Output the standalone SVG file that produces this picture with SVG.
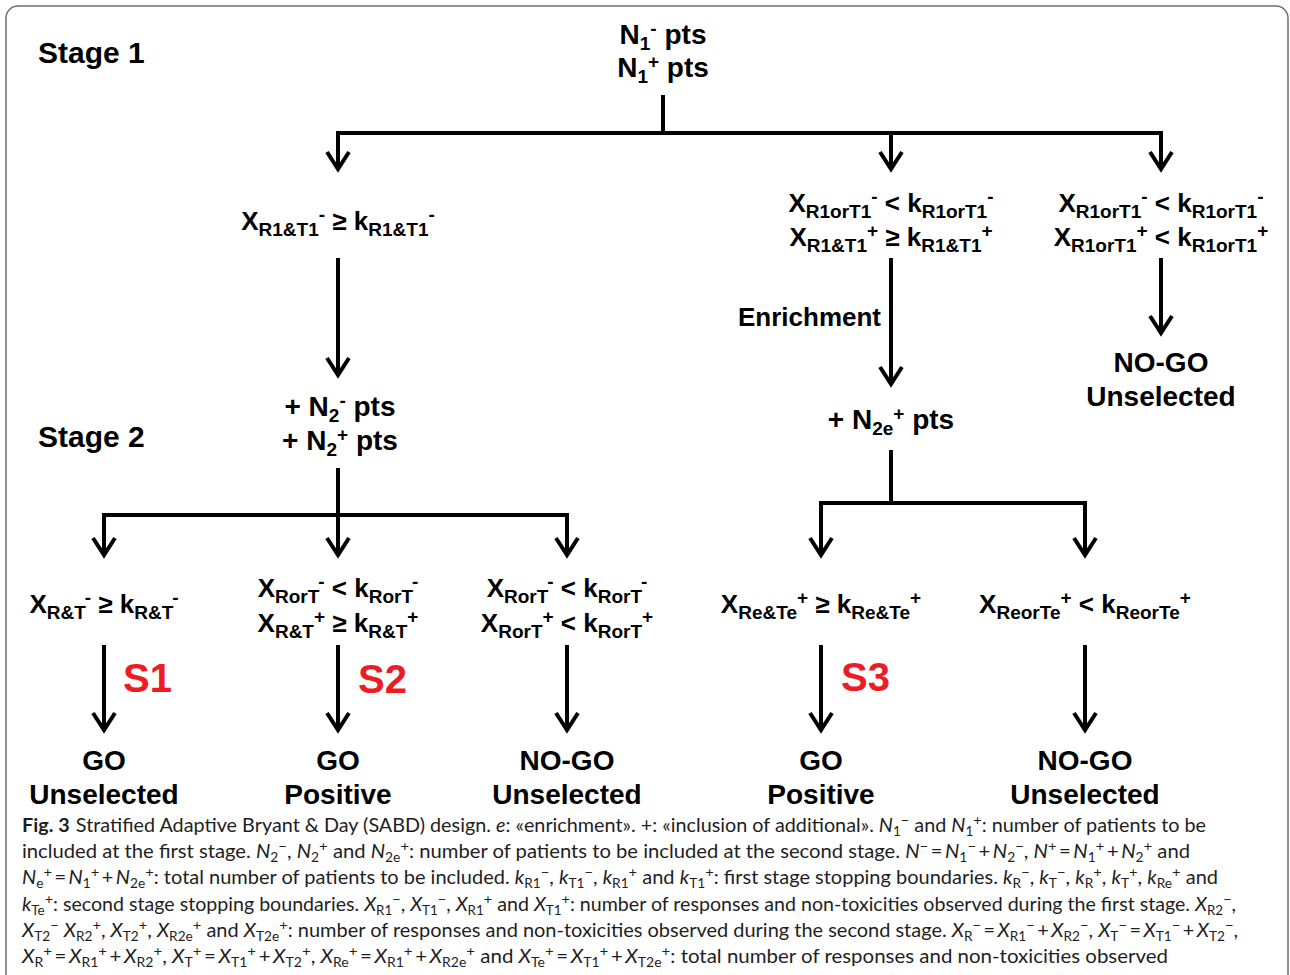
<svg xmlns="http://www.w3.org/2000/svg" width="1290" height="975" viewBox="0 0 1290 975">
<style>
.t{font-family:"Liberation Sans",Arial,sans-serif;font-weight:bold;fill:#000}
.m{font-size:26px}
.big{font-size:28px}
.stg{font-size:30px}
.red{font-size:40px;fill:#ed1c24}
.s{font-size:19px;baseline-shift:-6px}
.p{font-size:19px;baseline-shift:9px}
.cap{font-family:Lato,"Open Sans","Liberation Sans",sans-serif;font-size:19px;font-weight:400;fill:#1e1e1e}
.i{font-style:italic}
.cs{font-size:13px;baseline-shift:-4px}
.cp{font-size:14px;baseline-shift:7px}
.ln{fill:none;stroke:#000;stroke-width:4}
.ar{fill:none;stroke:#000;stroke-width:4;marker-end:url(#ah)}
</style>
<defs>
<marker id="ah" markerUnits="userSpaceOnUse" markerWidth="40" markerHeight="40" viewBox="-20 -20 40 40" refX="0" refY="0" orient="auto" overflow="visible">
<path d="M-17,-11 L0,0 L-17,11" fill="none" stroke="#000" stroke-width="4"/>
</marker>
</defs>
<rect x="0" y="0" width="1290" height="975" fill="#fff"/>
<rect x="6" y="6" width="1282" height="1010" rx="12" fill="none" stroke="#6d6d6d" stroke-width="1.5"/>

<g id="connectors">
<path class="ln" d="M663,95 V133"/>
<path class="ln" d="M336,133 H1163"/>
<path class="ar" d="M338,133 V169"/>
<path class="ar" d="M891,133 V169"/>
<path class="ar" d="M1161,133 V169"/>
<path class="ar" d="M338,258 V375"/>
<path class="ar" d="M891,258 V384"/>
<path class="ar" d="M1161,258 V333"/>
<path class="ln" d="M338,468 V515"/>
<path class="ln" d="M102,515 H569"/>
<path class="ar" d="M104,515 V555"/>
<path class="ar" d="M338,515 V555"/>
<path class="ar" d="M567,515 V555"/>
<path class="ln" d="M891,450 V503"/>
<path class="ln" d="M819,503 H1087"/>
<path class="ar" d="M821,503 V555"/>
<path class="ar" d="M1085,503 V555"/>
<path class="ar" d="M104,645 V730"/>
<path class="ar" d="M338,645 V730"/>
<path class="ar" d="M567,645 V730"/>
<path class="ar" d="M821,645 V730"/>
<path class="ar" d="M1085,645 V730"/>
</g>

<g id="stage1"><text class="t stg" x="38" y="63">Stage 1</text></g>
<g id="stage2"><text class="t stg" x="38" y="447">Stage 2</text></g>

<g id="n1">
<text class="t big" x="663" y="44" text-anchor="middle">N<tspan class="s">1</tspan><tspan class="p">-</tspan> pts</text>
<text class="t big" x="663" y="77" text-anchor="middle">N<tspan class="s">1</tspan><tspan class="p">+</tspan> pts</text>
</g>

<g id="cond1">
<text class="t m" x="338" y="230" text-anchor="middle">X<tspan class="s">R1&amp;T1</tspan><tspan class="p">-</tspan> ≥ k<tspan class="s">R1&amp;T1</tspan><tspan class="p">-</tspan></text>
</g>
<g id="cond2">
<text class="t m" x="891" y="212" text-anchor="middle">X<tspan class="s">R1orT1</tspan><tspan class="p">-</tspan> &lt; k<tspan class="s">R1orT1</tspan><tspan class="p">-</tspan></text>
<text class="t m" x="891" y="246" text-anchor="middle">X<tspan class="s">R1&amp;T1</tspan><tspan class="p">+</tspan> ≥ k<tspan class="s">R1&amp;T1</tspan><tspan class="p">+</tspan></text>
</g>
<g id="cond3">
<text class="t m" x="1161" y="212" text-anchor="middle">X<tspan class="s">R1orT1</tspan><tspan class="p">-</tspan> &lt; k<tspan class="s">R1orT1</tspan><tspan class="p">-</tspan></text>
<text class="t m" x="1161" y="246" text-anchor="middle">X<tspan class="s">R1orT1</tspan><tspan class="p">+</tspan> &lt; k<tspan class="s">R1orT1</tspan><tspan class="p">+</tspan></text>
</g>
<g id="enrich"><text class="t m" x="738" y="326">Enrichment</text></g>
<g id="nogo1">
<text class="t big" x="1161" y="372" text-anchor="middle">NO-GO</text>
<text class="t big" x="1161" y="406" text-anchor="middle">Unselected</text>
</g>
<g id="n2">
<text class="t big" x="340" y="416" text-anchor="middle">+ N<tspan class="s">2</tspan><tspan class="p">-</tspan> pts</text>
<text class="t big" x="340" y="450" text-anchor="middle">+ N<tspan class="s">2</tspan><tspan class="p">+</tspan> pts</text>
</g>
<g id="n2e">
<text class="t big" x="891" y="429" text-anchor="middle">+ N<tspan class="s">2e</tspan><tspan class="p">+</tspan> pts</text>
</g>

<g id="c-l">
<text class="t m" x="104" y="613" text-anchor="middle">X<tspan class="s">R&amp;T</tspan><tspan class="p">-</tspan> ≥ k<tspan class="s">R&amp;T</tspan><tspan class="p">-</tspan></text>
</g>
<g id="c-m">
<text class="t m" x="338" y="597" text-anchor="middle">X<tspan class="s">RorT</tspan><tspan class="p">-</tspan> &lt; k<tspan class="s">RorT</tspan><tspan class="p">-</tspan></text>
<text class="t m" x="338" y="632" text-anchor="middle">X<tspan class="s">R&amp;T</tspan><tspan class="p">+</tspan> ≥ k<tspan class="s">R&amp;T</tspan><tspan class="p">+</tspan></text>
</g>
<g id="c-r">
<text class="t m" x="567" y="597" text-anchor="middle">X<tspan class="s">RorT</tspan><tspan class="p">-</tspan> &lt; k<tspan class="s">RorT</tspan><tspan class="p">-</tspan></text>
<text class="t m" x="567" y="632" text-anchor="middle">X<tspan class="s">RorT</tspan><tspan class="p">+</tspan> &lt; k<tspan class="s">RorT</tspan><tspan class="p">+</tspan></text>
</g>
<g id="c-e1">
<text class="t m" x="821" y="613" text-anchor="middle">X<tspan class="s">Re&amp;Te</tspan><tspan class="p">+</tspan> ≥ k<tspan class="s">Re&amp;Te</tspan><tspan class="p">+</tspan></text>
</g>
<g id="c-e2">
<text class="t m" x="1085" y="613" text-anchor="middle">X<tspan class="s">ReorTe</tspan><tspan class="p">+</tspan> &lt; k<tspan class="s">ReorTe</tspan><tspan class="p">+</tspan></text>
</g>

<g id="s-labels">
<text class="t red" x="123" y="692">S1</text>
<text class="t red" x="358" y="693">S2</text>
<text class="t red" x="841" y="691">S3</text>
</g>

<g id="o1"><text class="t big" x="104" y="770" text-anchor="middle">GO</text><text class="t big" x="104" y="804" text-anchor="middle">Unselected</text></g>
<g id="o2"><text class="t big" x="338" y="770" text-anchor="middle">GO</text><text class="t big" x="338" y="804" text-anchor="middle">Positive</text></g>
<g id="o3"><text class="t big" x="567" y="770" text-anchor="middle">NO-GO</text><text class="t big" x="567" y="804" text-anchor="middle">Unselected</text></g>
<g id="o4"><text class="t big" x="821" y="770" text-anchor="middle">GO</text><text class="t big" x="821" y="804" text-anchor="middle">Positive</text></g>
<g id="o5"><text class="t big" x="1085" y="770" text-anchor="middle">NO-GO</text><text class="t big" x="1085" y="804" text-anchor="middle">Unselected</text></g>

<g id="caption">
<text class="cap" x="22" y="832" textLength="1184" lengthAdjust="spacingAndGlyphs"><tspan font-weight="bold">Fig. 3</tspan><tspan dx="6">Stratified Adaptive Bryant &amp; Day (SABD) design. </tspan><tspan class="i">e</tspan>: «enrichment». +: «inclusion of additional». <tspan class="i">N</tspan><tspan class="cs">1</tspan><tspan class="cp">−</tspan> and <tspan class="i">N</tspan><tspan class="cs">1</tspan><tspan class="cp">+</tspan>: number of patients to be</text>
<text class="cap" x="22" y="858" textLength="1168" lengthAdjust="spacingAndGlyphs">included at the first stage. <tspan class="i">N</tspan><tspan class="cs">2</tspan><tspan class="cp">−</tspan>, <tspan class="i">N</tspan><tspan class="cs">2</tspan><tspan class="cp">+</tspan> and <tspan class="i">N</tspan><tspan class="cs">2e</tspan><tspan class="cp">+</tspan>: number of patients to be included at the second stage. <tspan class="i">N</tspan><tspan class="cp">−</tspan>&#8201;=&#8201;<tspan class="i">N</tspan><tspan class="cs">1</tspan><tspan class="cp">−</tspan>&#8201;+&#8201;<tspan class="i">N</tspan><tspan class="cs">2</tspan><tspan class="cp">−</tspan>, <tspan class="i">N</tspan><tspan class="cp">+</tspan>&#8201;=&#8201;<tspan class="i">N</tspan><tspan class="cs">1</tspan><tspan class="cp">+</tspan>&#8201;+&#8201;<tspan class="i">N</tspan><tspan class="cs">2</tspan><tspan class="cp">+</tspan> and</text>
<text class="cap" x="22" y="884" textLength="1196" lengthAdjust="spacingAndGlyphs"><tspan class="i">N</tspan><tspan class="cs">e</tspan><tspan class="cp">+</tspan>&#8201;=&#8201;<tspan class="i">N</tspan><tspan class="cs">1</tspan><tspan class="cp">+</tspan>&#8201;+&#8201;<tspan class="i">N</tspan><tspan class="cs">2e</tspan><tspan class="cp">+</tspan>: total number of patients to be included. <tspan class="i">k</tspan><tspan class="cs">R1</tspan><tspan class="cp">−</tspan>, <tspan class="i">k</tspan><tspan class="cs">T1</tspan><tspan class="cp">−</tspan>, <tspan class="i">k</tspan><tspan class="cs">R1</tspan><tspan class="cp">+</tspan> and <tspan class="i">k</tspan><tspan class="cs">T1</tspan><tspan class="cp">+</tspan>: first stage stopping boundaries. <tspan class="i">k</tspan><tspan class="cs">R</tspan><tspan class="cp">−</tspan>, <tspan class="i">k</tspan><tspan class="cs">T</tspan><tspan class="cp">−</tspan>, <tspan class="i">k</tspan><tspan class="cs">R</tspan><tspan class="cp">+</tspan>, <tspan class="i">k</tspan><tspan class="cs">T</tspan><tspan class="cp">+</tspan>, <tspan class="i">k</tspan><tspan class="cs">Re</tspan><tspan class="cp">+</tspan> and</text>
<text class="cap" x="22" y="911" textLength="1214" lengthAdjust="spacingAndGlyphs"><tspan class="i">k</tspan><tspan class="cs">Te</tspan><tspan class="cp">+</tspan>: second stage stopping boundaries. <tspan class="i">X</tspan><tspan class="cs">R1</tspan><tspan class="cp">−</tspan>, <tspan class="i">X</tspan><tspan class="cs">T1</tspan><tspan class="cp">−</tspan>, <tspan class="i">X</tspan><tspan class="cs">R1</tspan><tspan class="cp">+</tspan> and <tspan class="i">X</tspan><tspan class="cs">T1</tspan><tspan class="cp">+</tspan>: number of responses and non-toxicities observed during the first stage. <tspan class="i">X</tspan><tspan class="cs">R2</tspan><tspan class="cp">−</tspan>,</text>
<text class="cap" x="22" y="937" textLength="1216" lengthAdjust="spacingAndGlyphs"><tspan class="i">X</tspan><tspan class="cs">T2</tspan><tspan class="cp">−</tspan> <tspan class="i">X</tspan><tspan class="cs">R2</tspan><tspan class="cp">+</tspan>, <tspan class="i">X</tspan><tspan class="cs">T2</tspan><tspan class="cp">+</tspan>, <tspan class="i">X</tspan><tspan class="cs">R2e</tspan><tspan class="cp">+</tspan> and <tspan class="i">X</tspan><tspan class="cs">T2e</tspan><tspan class="cp">+</tspan>: number of responses and non-toxicities observed during the second stage. <tspan class="i">X</tspan><tspan class="cs">R</tspan><tspan class="cp">−</tspan>&#8201;=&#8201;<tspan class="i">X</tspan><tspan class="cs">R1</tspan><tspan class="cp">−</tspan>&#8201;+&#8201;<tspan class="i">X</tspan><tspan class="cs">R2</tspan><tspan class="cp">−</tspan>, <tspan class="i">X</tspan><tspan class="cs">T</tspan><tspan class="cp">−</tspan>&#8201;=&#8201;<tspan class="i">X</tspan><tspan class="cs">T1</tspan><tspan class="cp">−</tspan>&#8201;+&#8201;<tspan class="i">X</tspan><tspan class="cs">T2</tspan><tspan class="cp">−</tspan>,</text>
<text class="cap" x="22" y="963" textLength="1146" lengthAdjust="spacingAndGlyphs"><tspan class="i">X</tspan><tspan class="cs">R</tspan><tspan class="cp">+</tspan>&#8201;=&#8201;<tspan class="i">X</tspan><tspan class="cs">R1</tspan><tspan class="cp">+</tspan>&#8201;+&#8201;<tspan class="i">X</tspan><tspan class="cs">R2</tspan><tspan class="cp">+</tspan>, <tspan class="i">X</tspan><tspan class="cs">T</tspan><tspan class="cp">+</tspan>&#8201;=&#8201;<tspan class="i">X</tspan><tspan class="cs">T1</tspan><tspan class="cp">+</tspan>&#8201;+&#8201;<tspan class="i">X</tspan><tspan class="cs">T2</tspan><tspan class="cp">+</tspan>, <tspan class="i">X</tspan><tspan class="cs">Re</tspan><tspan class="cp">+</tspan>&#8201;=&#8201;<tspan class="i">X</tspan><tspan class="cs">R1</tspan><tspan class="cp">+</tspan>&#8201;+&#8201;<tspan class="i">X</tspan><tspan class="cs">R2e</tspan><tspan class="cp">+</tspan> and <tspan class="i">X</tspan><tspan class="cs">Te</tspan><tspan class="cp">+</tspan>&#8201;=&#8201;<tspan class="i">X</tspan><tspan class="cs">T1</tspan><tspan class="cp">+</tspan>&#8201;+&#8201;<tspan class="i">X</tspan><tspan class="cs">T2e</tspan><tspan class="cp">+</tspan>: total number of responses and non-toxicities observed</text>
</g>
</svg>
